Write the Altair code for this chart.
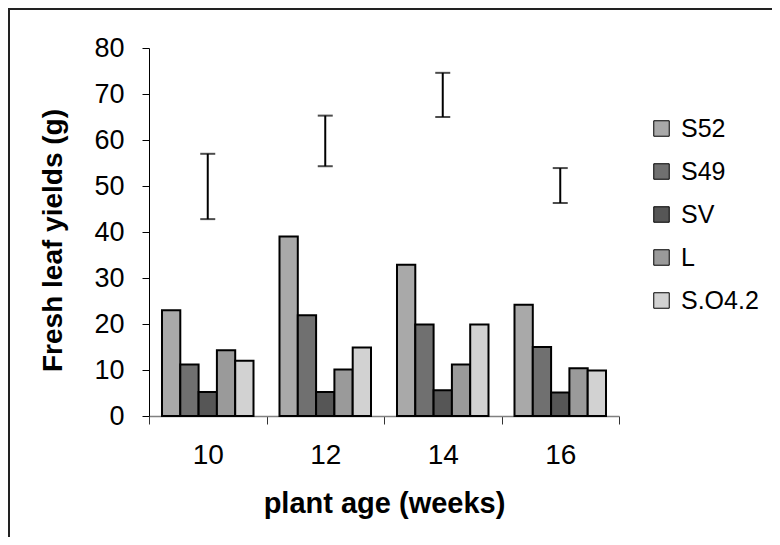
import altair as alt
import pandas as pd

ages = ["10", "12", "14", "16"]
series = ["S52", "S49", "SV", "L", "S.O4.2"]
S52 = [23.0, 39.0, 32.9, 24.2]
S49 = [11.2, 21.9, 19.9, 15.0]
SV = [5.2, 5.2, 5.6, 5.1]
L = [14.3, 10.1, 11.2, 10.4]
SO42 = [12.0, 14.9, 19.9, 9.9]
err_low = [42.8, 54.3, 65.0, 46.3]
err_high = [57.0, 65.3, 74.6, 53.9]
fills = ["#a9a9a9", "#707070", "#565656", "#9a9a9a", "#d2d2d2"]

rows = []
for name, vals in zip(series, [S52, S49, SV, L, SO42]):
    for a, v in zip(ages, vals):
        rows.append({"age": a, "series": name, "value": v})
bars_df = pd.DataFrame(rows)
err_df = pd.DataFrame({"age": ages, "low": err_low, "high": err_high})

FONT = "Liberation Sans"

x_enc = alt.X(
    "age:N",
    sort=ages,
    scale=alt.Scale(paddingInner=0, paddingOuter=0),
    axis=alt.Axis(
        title="plant age (weeks)",
        labelAngle=0,
        tickBand="extent",
        tickSize=8,
        labelPadding=17,
        labelFontSize=28,
        titleFontSize=29,
        titleFontWeight="bold",
        titleBaseline="alphabetic",
        titleY=96,
        domainColor="#808080",
        domainWidth=1.5,
        tickColor="#333333",
        tickWidth=1,
    ),
)

bars = alt.Chart(bars_df).mark_bar(stroke="black", strokeWidth=2).encode(
    x=x_enc,
    xOffset=alt.XOffset("series:N", sort=series,
                        scale=alt.Scale(paddingInner=0, paddingOuter=0.71)),
    y=alt.Y(
        "value:Q",
        scale=alt.Scale(domain=[0, 80], nice=False),
        axis=alt.Axis(
            title="Fresh leaf yields (g)",
            values=[0, 10, 20, 30, 40, 50, 60, 70, 80],
            grid=False,
            tickSize=7,
            labelPadding=18,
            labelFontSize=27,
            titleFontSize=28,
            titleFontWeight="bold",
            titleBaseline="alphabetic",
            titleX=-88,
            titleY=192,
            domainColor="black",
            domainWidth=1,
            tickColor="black",
        ),
    ),
    fill=alt.Fill(
        "series:N",
        sort=series,
        scale=alt.Scale(domain=series, range=fills),
        legend=alt.Legend(
            title=None,
            orient="none",
            legendX=500,
            legendY=68,
            symbolType="square",
            symbolSize=240,
            symbolStrokeColor="black",
            symbolStrokeWidth=1,
            labelFontSize=25,
            labelOffset=7,
            rowPadding=17,
            padding=0,
        ),
    ),
)

err_rule = alt.Chart(err_df).mark_rule(color="black", strokeWidth=2).encode(
    x=alt.X("age:N", sort=ages),
    y="low:Q",
    y2="high:Q",
)
cap_low = alt.Chart(err_df).mark_tick(color="black", thickness=2, size=15, orient="horizontal").encode(
    x=alt.X("age:N", sort=ages), y="low:Q"
)
cap_high = alt.Chart(err_df).mark_tick(color="black", thickness=2, size=15, orient="horizontal").encode(
    x=alt.X("age:N", sort=ages), y="high:Q"
)

frame = alt.Chart(alt.Data(values=[{}])).mark_rect(
    fill=None, stroke="#222222", strokeWidth=2, clip=False
).encode(
    x=alt.value(-140), x2=alt.value(800), y=alt.value(-39), y2=alt.value(700)
)

chart = alt.layer(bars, err_rule, cap_low, cap_high, frame).properties(
    width=470,
    height=368,
    autosize="none",
    padding={"left": 141, "top": 40, "right": 153, "bottom": 121},
).configure(font=FONT).configure_view(stroke=None).configure_axis(
    labelColor="black", titleColor="black", labelFont=FONT, titleFont=FONT
).configure_legend(labelFont=FONT, labelColor="black")

chart.save("out.html", embed_options={"renderer": "svg", "actions": False})
